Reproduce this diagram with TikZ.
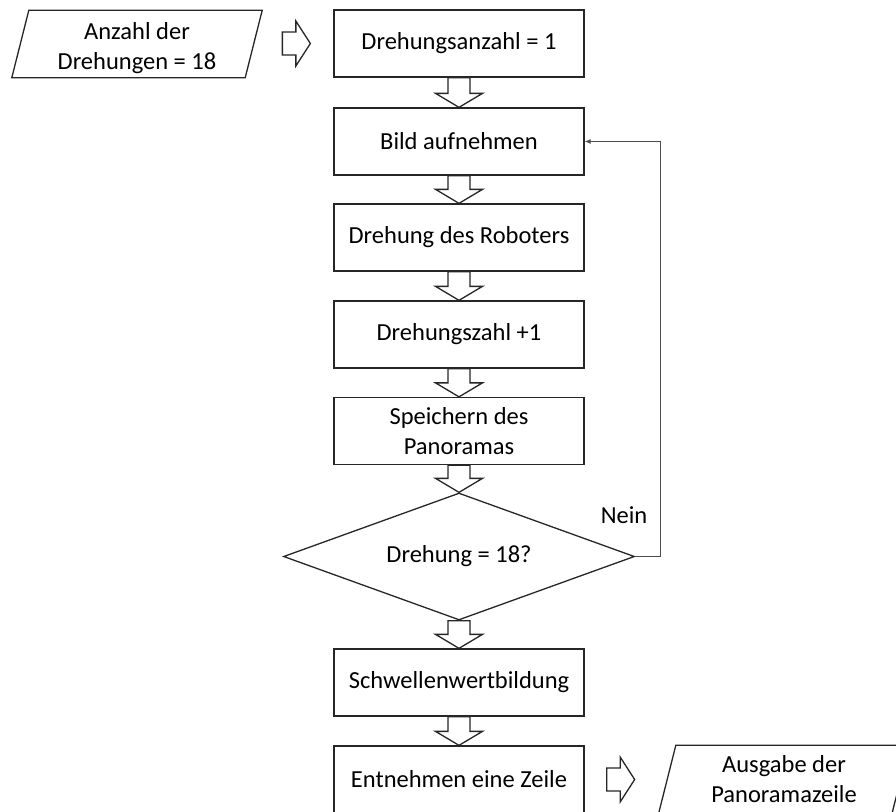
\documentclass[tikz,border=0pt]{standalone}
\usepackage{fontspec}
\setmainfont{Carlito}
\usetikzlibrary{shapes.geometric,calc,arrows.meta}
\newcommand{\dblk}[2]{%
  \draw[blk] let \p1=(#1.south), \p2=(#2.north) in
    (\x1-11pt,\y1) -- (\x1+11pt,\y1) -- (\x1+11pt,\y2+14pt) -- (\x1+23.5pt,\y2+14pt)
    -- (\x1,\y2) -- (\x1-23.5pt,\y2+14pt) -- (\x1-11pt,\y2+14pt) -- cycle;}
\newcommand{\rblk}[2]{%
  \draw[blk] let \p1=(#1), \p2=(#2) in
    (\x1,\y1+11.5pt) -- (\x2-14.5pt,\y1+11.5pt) -- (\x2-14.5pt,\y1+22.5pt) -- (\x2,\y1)
    -- (\x2-14.5pt,\y1-22.5pt) -- (\x2-14.5pt,\y1-11.5pt) -- (\x1,\y1-11.5pt) -- cycle;}
\begin{document}
\begin{tikzpicture}[x=1pt,y=1pt,
  every node/.style={font=\fontsize{24.5}{30}\selectfont, text=black},
  procbox/.style={draw=black!85, line width=1.3pt, minimum width=250pt, minimum height=67pt, inner sep=0pt, align=center},
  iobox/.style={minimum width=233pt, minimum height=67pt, inner sep=0pt, align=center},
  ioline/.style={draw=black!85, line width=1.3pt, line join=miter},
  decision/.style={diamond, draw=black!85, line width=1.3pt, minimum width=351pt, minimum height=127pt, aspect=2.76, inner sep=0pt},
  blk/.style={draw=black!85, line width=1.3pt, fill=white, line join=miter},
  fb/.style={draw=black!70, line width=1pt, -{Latex[length=6pt,width=5pt]}}]
\useasboundingbox (0,0) rectangle (896,-811);
\clip (0,0) rectangle (896,-811);
\node[procbox] (b1) at (459,-43.5) {Drehungsanzahl = 1};
\node[procbox] (b2) at (459,-141.5) {Bild aufnehmen};
\node[procbox] (b3) at (459,-237.5) {Drehung des Roboters};
\node[procbox] (b4) at (459,-334.5) {Drehungszahl +1};
\node[procbox] (b5) at (459,-431) {Speichern des\\Panoramas};
\node[decision] (d) at (459,-556.5) {Drehung = 18?};
\node[procbox] (b6) at (459,-682.5) {Schwellenwertbildung};
\node[procbox] (b7) at (459,-779.5) {Entnehmen eine Zeile};
\node[iobox] (in1) at (137,-48) {Anzahl der\\Drehungen = 18};
\draw[ioline] ($(in1.north west)+(8.5,4)$) -- ($(in1.north east)+(8.5,4)$) -- ($(in1.south east)+(-8.5,4)$) -- ($(in1.south west)+(-8.5,4)$) -- cycle;
\node[iobox] (out1) at (784,-779) {Ausgabe der\\Panoramazeile};
\draw[ioline] ($(out1.north west)+(8.5,0)$) -- ($(out1.north east)+(8.5,0)$) -- ($(out1.south east)+(-8.5,0)$) -- ($(out1.south west)+(-8.5,0)$) -- cycle;
\dblk{b1}{b2}
\dblk{b2}{b3}
\dblk{b3}{b4}
\dblk{b4}{b5}
\dblk{b5}{d}
\dblk{d}{b6}
\dblk{b6}{b7}
\coordinate (a1s) at ($(b1.west)+(-51,0)$);
\coordinate (a1t) at ($(b1.west)+(-23,0)$);
\rblk{a1s}{a1t}
\coordinate (a2s) at ($(b7.east)+(22,0)$);
\coordinate (a2t) at ($(b7.east)+(50,0)$);
\rblk{a2s}{a2t}
\draw[fb] (d.east) -- ++(25,0) |- (b2.east);
\node (nein) at (624,-515) {Nein};
\end{tikzpicture}
\end{document}
